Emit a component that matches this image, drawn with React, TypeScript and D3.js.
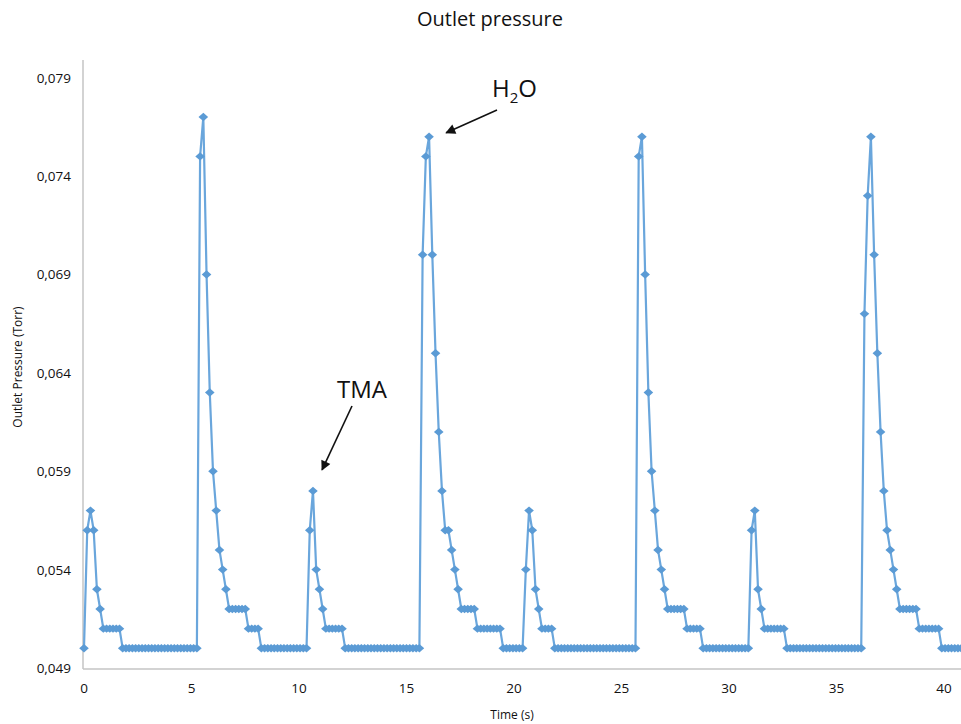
import React from "react";
import * as d3 from "d3";

// ---- data ----
const SAMPLE_INTERVAL_S = 0.15;
// outlet pressure, in mTorr (1 mTorr = 0.001 Torr), one value per sample
const pressureMilliTorr: number[] = [
  50, 56, 57, 56, 53, 52,
  51, 51, 51, 51, 51, 51,
  50, 50, 50, 50, 50, 50, 50, 50, 50, 50, 50, 50, 50, 50, 50, 50, 50, 50, 50, 50, 50, 50, 50, 50,
  75, 77, 69, 63, 59, 57, 55, 54, 53,
  52, 52, 52, 52, 52, 52,
  51, 51, 51, 51,
  50, 50, 50, 50, 50, 50, 50, 50, 50, 50, 50, 50, 50, 50, 50,
  56, 58, 54, 53, 52,
  51, 51, 51, 51, 51, 51,
  50, 50, 50, 50, 50, 50, 50, 50, 50, 50, 50, 50, 50, 50, 50, 50, 50, 50, 50, 50, 50, 50, 50, 50,
  70, 75, 76, 70, 65, 61, 58, 56, 56, 55, 54, 53,
  52, 52, 52, 52, 52,
  51, 51, 51, 51, 51, 51, 51, 51,
  50, 50, 50, 50, 50, 50, 50,
  54, 57, 56, 53, 52,
  51, 51, 51, 51,
  50, 50, 50, 50, 50, 50, 50, 50, 50, 50, 50, 50, 50, 50, 50, 50, 50, 50, 50, 50, 50, 50, 50, 50, 50, 50,
  75, 76, 69, 63, 59, 57, 55, 54, 53,
  52, 52, 52, 52, 52, 52,
  51, 51, 51, 51, 51,
  50, 50, 50, 50, 50, 50, 50, 50, 50, 50, 50, 50, 50, 50, 50,
  56, 57, 53, 52,
  51, 51, 51, 51, 51, 51, 51,
  50, 50, 50, 50, 50, 50, 50, 50, 50, 50, 50, 50, 50, 50, 50, 50, 50, 50, 50, 50, 50, 50, 50, 50,
  67, 73, 76, 70, 65, 61, 58, 56, 55, 54, 53,
  52, 52, 52, 52, 52, 52,
  51, 51, 51, 51, 51, 51, 51,
  50, 50, 50, 50, 50, 50, 50,
];
const xTickValues = [0, 5, 10, 15, 20, 25, 30, 35, 40];
const yTickValues = [0.049, 0.054, 0.059, 0.064, 0.069, 0.074, 0.079];
const yDomain: [number, number] = [0.049, 0.0799];
const xDomain: [number, number] = [0, 41.2];
const titleText = "Outlet pressure";
const xLabel = "Time (s)";
const yLabel = "Outlet Pressure (Torr)";
const annotations = [
  { text: "TMA", time: 10.7, value: 0.058 },
  { text: "H2O", time: 16.1, value: 0.076 },
];

// ---- layout ----
const W = 961;
const H = 724;
const FONT = "'Open Sans', 'DejaVu Sans', sans-serif";
const BLUE = "#5b9bd5";
const LINE_BLUE = "#6aa6dc";
const AXIS = "#c4c4c4";

export default function App() {
  const x = d3.scaleLinear().domain(xDomain).range([84, 84 + 21.5 * xDomain[1]]);
  const y = d3.scaleLinear().domain(yDomain).range([668, 60]);

  const points = pressureMilliTorr.map((v, i) => ({
    t: i * SAMPLE_INTERVAL_S,
    p: v / 1000,
  }));

  const line = d3
    .line<{ t: number; p: number }>()
    .x((d) => x(d.t))
    .y((d) => y(d.p));

  const fmt = (v: number) => d3.format(".3f")(v).replace(".", ",");
  const diamond = "M0,-4.2L4.8,0L0,4.2L-4.8,0Z";

  const tma = annotations[0];
  const h2o = annotations[1];
  // arrow tips sit a little off the peak points
  const tmaTip = { x: x(tma.time) + 8, y: y(tma.value) - 21 };
  const h2oTip = { x: x(h2o.time) + 16, y: y(h2o.value) - 4 };

  return (
    <div style={{ position: "absolute", left: 0, top: 0 }}>
      <svg width={W} height={H} style={{ display: "block", background: "#fff" }}>
        <defs>
          <marker
            id="arrowHead"
            viewBox="0 0 10 10"
            refX="9"
            refY="5"
            markerWidth="11"
            markerHeight="10"
            orient="auto-start-reverse"
            markerUnits="userSpaceOnUse"
          >
            <path d="M0,0L10,5L0,10Z" fill="#111" />
          </marker>
        </defs>

        {/* title */}
        <text x={490} y={26} textAnchor="middle" fontFamily={FONT} fontSize={20} fill="#111">
          {titleText}
        </text>

        {/* axes lines */}
        <line x1={x(0) - 1} x2={x(0) - 1} y1={y(yDomain[1])} y2={y(yDomain[0]) + 1} stroke={AXIS} strokeWidth={1.5} />
        <line x1={x(0) - 1} x2={W} y1={y(yDomain[0]) + 1} y2={y(yDomain[0]) + 1} stroke={AXIS} strokeWidth={1.5} />

        {/* y tick labels */}
        {yTickValues.map((v) => (
          <text key={v} x={71} y={y(v) + 5} textAnchor="end" fontFamily={FONT} fontSize={13.5} fill="#111">
            {fmt(v)}
          </text>
        ))}

        {/* x tick labels */}
        {xTickValues.map((v) => (
          <text key={v} x={x(v)} y={693} textAnchor="middle" fontFamily={FONT} fontSize={13.5} fill="#111">
            {v}
          </text>
        ))}

        {/* axis titles */}
        <text x={512} y={719} textAnchor="middle" fontFamily={FONT} fontSize={12} fill="#111">
          {xLabel}
        </text>
        <text transform={`translate(22,367) rotate(-90)`} textAnchor="middle" fontFamily={FONT} fontSize={12} fill="#111">
          {yLabel}
        </text>

        {/* series */}
        <g>
          <path d={line(points) ?? ""} fill="none" stroke={LINE_BLUE} strokeWidth={2.2} strokeLinejoin="round" />
          {points.map((d, i) => (
            <path key={i} d={diamond} transform={`translate(${x(d.t)},${y(d.p)})`} fill={BLUE} />
          ))}
        </g>

        {/* annotations */}
        <text x={362} y={398} textAnchor="middle" fontFamily={FONT} fontSize={24} fill="#111">
          {tma.text}
        </text>
        <line x1={352} y1={406} x2={tmaTip.x} y2={tmaTip.y} stroke="#111" strokeWidth={1.6} markerEnd="url(#arrowHead)" />
        <text x={492} y={97} fontFamily={FONT} fontSize={24} fill="#111">
          H<tspan fontSize={15} dy={6}>2</tspan>
          <tspan dy={-6}>O</tspan>
        </text>
        <line x1={497} y1={110} x2={h2oTip.x} y2={h2oTip.y} stroke="#111" strokeWidth={1.6} markerEnd="url(#arrowHead)" />
      </svg>
    </div>
  );
}
